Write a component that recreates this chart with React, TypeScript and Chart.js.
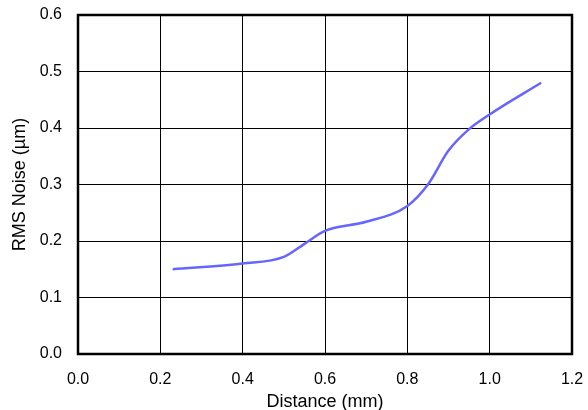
import React, { useEffect, useRef } from "react";
import { Chart, registerables } from "chart.js";

Chart.register(...registerables);

const distanceMm = [0.23, 0.4, 0.5, 0.55, 0.6, 0.7, 0.8, 0.85, 0.9, 0.95, 1.0, 1.125];
const rmsNoiseUm = [0.15, 0.16, 0.172, 0.195, 0.218, 0.234, 0.262, 0.3, 0.36, 0.398, 0.424, 0.48];
const xTitle = "Distance (mm)";
const yTitle = "RMS Noise (µm)";

const FONT = "'Liberation Sans', Arial, Helvetica, sans-serif";

const frame = {
  id: "frame",
  afterDraw(chart: any) {
    const { ctx, chartArea } = chart;
    ctx.save();
    ctx.strokeStyle = "#000";
    ctx.lineWidth = 2.5;
    ctx.strokeRect(chartArea.left, chartArea.top, chartArea.right - chartArea.left, chartArea.bottom - chartArea.top);
    ctx.restore();
  },
};

export default function App() {
  const ref = useRef<HTMLCanvasElement>(null);
  useEffect(() => {
    const chart = new Chart(ref.current!, {
      type: "line",
      data: {
        datasets: [
          {
            data: distanceMm.map((x, i) => ({ x, y: rmsNoiseUm[i] })),
            borderColor: "#6666ff",
            borderWidth: 2.5,
            pointRadius: 0,
            cubicInterpolationMode: "monotone",
            fill: false,
          },
        ],
      },
      options: {
        animation: false,
        responsive: false,
        maintainAspectRatio: false,
        layout: { padding: { top: 15, right: 16, left: 9, bottom: 0 } },
        plugins: { legend: { display: false }, tooltip: { enabled: false } },
        scales: {
          x: {
            type: "linear",
            min: 0,
            max: 1.2,
            afterFit: (s: any) => {
              s.height = 56;
              s.paddingLeft = 0;
              s.paddingRight = 0;
            },
            ticks: {
              stepSize: 0.2,
              padding: 16,
              color: "#000",
              font: { family: FONT, size: 16 },
              callback: (v: any) => Number(v).toFixed(1),
            },
            grid: { color: "#000", lineWidth: 1, drawTicks: false },
            border: { display: false },
            title: {
              display: true,
              text: xTitle,
              color: "#000",
              font: { family: FONT, size: 18 },
              padding: { top: 0, bottom: -3 },
            },
          },
          y: {
            type: "linear",
            min: 0,
            max: 0.6,
            afterFit: (s: any) => {
              s.width = 69;
              s.paddingTop = 0;
              s.paddingBottom = 0;
            },
            ticks: {
              stepSize: 0.1,
              padding: 16,
              color: "#000",
              font: { family: FONT, size: 16 },
              callback: (v: any) => Number(v).toFixed(1),
            },
            grid: { color: "#000", lineWidth: 1, drawTicks: false },
            border: { display: false },
            title: {
              display: true,
              text: yTitle,
              color: "#000",
              font: { family: FONT, size: 18 },
              padding: { top: 0, bottom: 4 },
            },
          },
        },
      },
      plugins: [frame],
    } as any);
    return () => chart.destroy();
  }, []);
  return (
    <div style={{ position: "absolute", left: 0, top: 0, width: 588, height: 410 }}>
      <canvas ref={ref} width={588} height={410} style={{ width: 588, height: 410, display: "block" }} />
    </div>
  );
}
